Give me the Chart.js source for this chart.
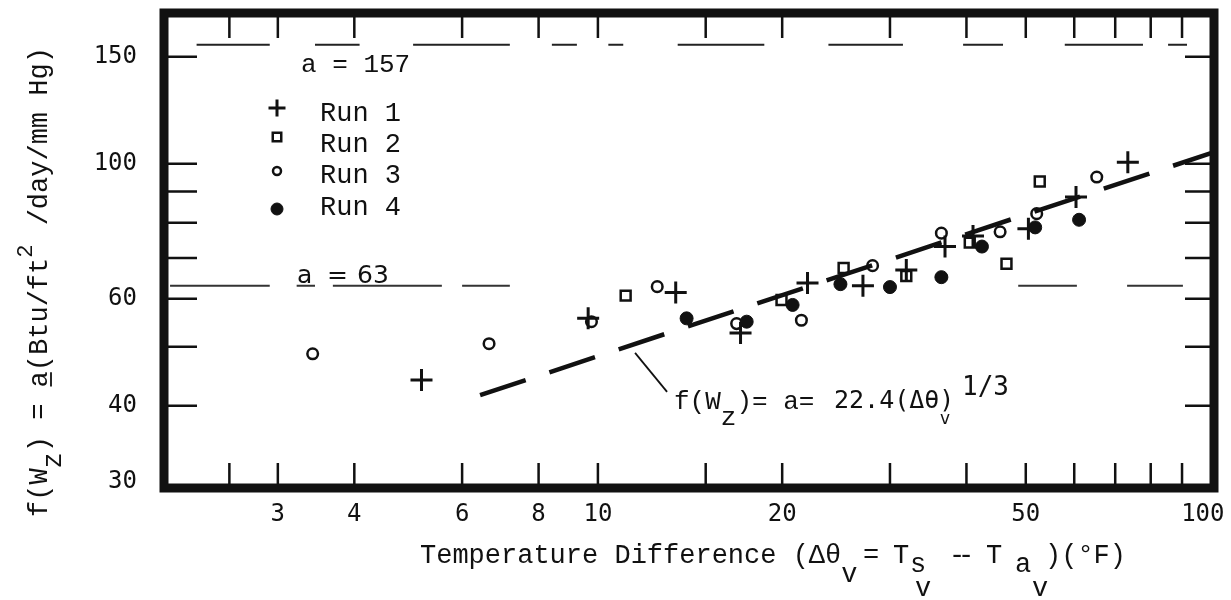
<!DOCTYPE html>
<html>
<head>
<meta charset="utf-8">
<title>f(Wz) against temperature difference</title>
<script src="https://cdn.jsdelivr.net/npm/chart.js@4.4.1/dist/chart.umd.min.js"></script>
<style>
  html, body { margin: 0; padding: 0; background: #fff; }
  #box { width: 1231px; height: 600px; }
  canvas { display: block; }
</style>
</head>
<body>
<div id="box"><canvas id="chart" width="1231" height="600"></canvas></div>
<script>
// Evaporation coefficient f(Wz) against temperature difference, four runs
const run1X = [5.15, 9.64, 13.4, 17.1, 22.0, 27.1, 31.9, 36.9, 41.0, 50.5, 60.4, 73.4];
const run1Y = [44.1, 55.7, 61.4, 52.7, 63.7, 63.0, 66.9, 73.1, 76.1, 78.2, 88.2, 100.6];
const run2X = [11.1, 19.95, 25.2, 31.9, 40.5, 46.5, 52.7];
const run2Y = [60.7, 59.7, 67.4, 65.4, 74.2, 68.5, 93.5];
const run3X = [3.42, 6.64, 9.76, 12.5, 16.85, 21.5, 28.1, 36.4, 45.4, 52.1, 65.3];
const run3Y = [48.7, 50.6, 55.0, 62.8, 54.6, 55.3, 68.0, 76.9, 77.3, 82.8, 95.1];
const run4X = [13.96, 17.5, 20.8, 24.9, 30.0, 36.4, 42.4, 51.8, 61.1];
const run4Y = [55.7, 55.0, 58.6, 63.4, 62.7, 65.1, 73.1, 78.6, 80.9];
const runNames = ['Run 1', 'Run 2', 'Run 3', 'Run 4'];

// fitted relation  f(Wz) = a = 22.4 (Δθv)^(1/3)
const fitCoef = 22.4;
const fitExp = 1 / 3;
const fitRange = [6.42, 101.5];

// constant levels a = 157 and a = 63, drawn as broken rules (x extents in °F)
const aHigh = 157;
const aHighSegments = [[2.21, 2.91], [3.45, 4.08], [4.99, 7.18], [8.41, 9.24], [10.4, 11.0],
                       [13.5, 18.7], [23.8, 31.5], [39.5, 45.9], [57.9, 77.7], [85.4, 91.7]];
const aLow = 63;
const aLowSegments = [[2.0, 2.91], [3.22, 3.45], [3.69, 5.56], [6.0, 7.18], [48.6, 60.6], [73.2, 90.3]];

// axes
const xRange = [1.955, 101.5];
const yRange = [29.3, 177];
const xTickMarks = [2.5, 3, 4, 6, 8, 10, 15, 20, 30, 40, 50, 60, 70, 80, 90];
const xTickLabels = [3, 4, 6, 8, 10, 20, 50, 100];
const yTickMarks = [40, 50, 60, 70, 80, 90, 100, 150];
const yTickLabels = [30, 40, 60, 100, 150];

const INK = '#111';
const MONO = '"Liberation Mono", "DejaVu Sans Mono", monospace';
const SANSMONO = '"DejaVu Sans Mono", monospace';

const pts = (xs, ys) => xs.map((x, i) => ({ x, y: ys[i] }));
const rule = (segs, level) => segs.flatMap(([a, b]) => [{ x: a, y: level }, { x: b, y: level }, { x: b, y: null }]);
const fitPts = fitRange.map(x => ({ x, y: fitCoef * Math.pow(x, fitExp) }));
const tickList = (a, b) => [...new Set([...a, ...b])].sort((p, q) => p - q).map(v => ({ value: v }));

function put(ctx, s, x, y, font) {
  ctx.font = font;
  ctx.fillText(s, x, y);
  return x + ctx.measureText(s).width;
}

const framePlugin = {
  id: 'frame',
  afterDatasetsDraw(chart) {
    const { ctx, chartArea: a, scales: { x, y } } = chart;
    ctx.save();
    ctx.strokeStyle = INK;
    ctx.lineWidth = 2.5;
    ctx.beginPath();
    xTickMarks.forEach(v => {
      const px = x.getPixelForValue(v);
      ctx.moveTo(px, a.bottom); ctx.lineTo(px, a.bottom - 25);
      ctx.moveTo(px, a.top); ctx.lineTo(px, a.top + 25);
    });
    yTickMarks.forEach(v => {
      const py = y.getPixelForValue(v);
      ctx.moveTo(a.left, py); ctx.lineTo(a.left + 33, py);
      ctx.moveTo(a.right, py); ctx.lineTo(a.right - 29, py);
    });
    ctx.stroke();
    ctx.lineWidth = 9;
    ctx.lineJoin = 'miter';
    ctx.strokeRect(a.left, a.top, a.right - a.left, a.bottom - a.top);
    ctx.restore();
  },
  afterDraw(chart) {
    const { ctx, scales: { x, y } } = chart;
    ctx.save();
    ctx.fillStyle = INK;
    ctx.strokeStyle = INK;
    ctx.textAlign = 'left';
    ctx.textBaseline = 'alphabetic';

    // legend block
    put(ctx, 'a = 157', 301, 72, '26px ' + MONO);
    const legendRows = [[108, 121], [137, 152], [171, 183], [209, 215]];
    const legendMarks = [
      { pointStyle: 'cross', radius: 8.5, borderWidth: 3, fill: 'rgba(0,0,0,0)' },
      { pointStyle: 'rect', radius: 6, borderWidth: 2.5, fill: 'rgba(0,0,0,0)' },
      { pointStyle: 'circle', radius: 4, borderWidth: 2.5, fill: 'rgba(0,0,0,0)' },
      { pointStyle: 'circle', radius: 6, borderWidth: 1, fill: INK }
    ];
    legendRows.forEach(([my, ty], i) => {
      const m = legendMarks[i];
      ctx.lineWidth = m.borderWidth;
      ctx.fillStyle = m.fill;
      Chart.helpers.drawPoint(ctx, { pointStyle: m.pointStyle, radius: m.radius, rotation: 0, borderWidth: m.borderWidth }, 277, my);
      ctx.fillStyle = INK;
      put(ctx, runNames[i], 320, ty, '27px ' + MONO);
    });

    // hand label on the a = 63 rule
    const lowY = y.getPixelForValue(aLow);
    const hand = '25px "DejaVu Sans", sans-serif';
    put(ctx, 'a', 297, lowY - 3, hand);
    put(ctx, '=', 327, lowY - 3, hand);
    put(ctx, '63', 357, lowY - 3, hand);

    // fitted-line annotation with leader
    const lx = x.getPixelForValue(11.5);
    const ly = y.getPixelForValue(fitCoef * Math.pow(11.5, fitExp)) + 9;
    ctx.lineWidth = 1.8;
    ctx.beginPath();
    ctx.moveTo(lx, ly);
    ctx.lineTo(lx + 32, ly + 39);
    ctx.stroke();
    const annF = '26px ' + MONO;
    let ax = put(ctx, 'f(W', 674, 409, annF);
    ax = put(ctx, 'z', ax, 425, annF);
    put(ctx, ')= a=', ax, 409, annF);
    put(ctx, '22.4(Δθ)', 834, 408, '25px ' + SANSMONO);
    put(ctx, '1/3', 962, 395, '26px ' + SANSMONO);
    put(ctx, 'v', 940, 424, '17px "DejaVu Sans", sans-serif');

    // x-axis title
    const F = '27px ' + MONO;
    const tx = put(ctx, 'Temperature Difference (Δθ', 420, 563, F);
    put(ctx, 'v', tx, 582, F);
    put(ctx, '=', 863, 563, F);
    put(ctx, 'T', 893, 563, F);
    put(ctx, 's', 910, 572, F);
    put(ctx, 'v', 915, 596, F);
    put(ctx, '-', 949, 563, F);
    put(ctx, '-', 958, 563, F);
    put(ctx, 'T', 986, 563, F);
    put(ctx, 'a', 1015, 572, F);
    put(ctx, 'v', 1032, 596, F);
    put(ctx, ')(°F)', 1045, 563, F);

    // y-axis title, reading upward
    ctx.translate(47, 517);
    ctx.rotate(-Math.PI / 2);
    let ty = put(ctx, 'f(W', 0, 0, F);
    ty = put(ctx, 'z', ty, 14, F);
    ty = put(ctx, ') = ', ty, 0, F);
    const aStart = ty;
    ty = put(ctx, 'a', ty, 0, F);
    ctx.lineWidth = 1.8;
    ctx.beginPath();
    ctx.moveTo(aStart + 1, 4); ctx.lineTo(ty - 1, 4);
    ctx.stroke();
    ty = put(ctx, '(Btu/ft', ty, 0, F);
    ty = put(ctx, '2', ty, -15, '22px ' + MONO);
    put(ctx, ' /day/mm Hg)', ty + 3, 0, F);
    ctx.restore();
  }
};

function build() {
  new Chart(document.getElementById('chart'), {
    type: 'scatter',
    data: {
      datasets: [
        { label: runNames[0], data: pts(run1X, run1Y), pointStyle: 'cross', pointRadius: 11,
          borderColor: INK, borderWidth: 3, backgroundColor: 'rgba(0,0,0,0)', order: 1 },
        { label: runNames[1], data: pts(run2X, run2Y), pointStyle: 'rect', pointRadius: 7,
          borderColor: INK, borderWidth: 2.5, backgroundColor: 'rgba(0,0,0,0)', order: 2 },
        { label: runNames[2], data: pts(run3X, run3Y), pointStyle: 'circle', pointRadius: 5.3,
          borderColor: INK, borderWidth: 2.5, backgroundColor: 'rgba(0,0,0,0)', order: 3 },
        { label: runNames[3], data: pts(run4X, run4Y), pointStyle: 'circle', pointRadius: 6.5,
          borderColor: INK, borderWidth: 1, backgroundColor: INK, order: 0 },
        { label: 'fit', type: 'line', data: fitPts, borderColor: INK, borderWidth: 4.5,
          borderDash: [48, 25], borderCapStyle: 'butt', pointRadius: 0, tension: 0, order: 10 },
        { label: 'a157', type: 'line', data: rule(aHighSegments, aHigh), borderColor: '#222',
          borderWidth: 2, pointRadius: 0, spanGaps: false, order: 11 },
        { label: 'a63', type: 'line', data: rule(aLowSegments, aLow), borderColor: '#333',
          borderWidth: 2, pointRadius: 0, spanGaps: false, order: 12 }
      ]
    },
    options: {
      responsive: false,
      animation: false,
      devicePixelRatio: 1,
      layout: { autoPadding: false, padding: { left: 0, right: 17, top: 13, bottom: 0 } },
      plugins: { legend: { display: false }, tooltip: { enabled: false } },
      scales: {
        x: {
          type: 'logarithmic', position: 'bottom', min: xRange[0], max: xRange[1],
          afterBuildTicks: s => { s.ticks = tickList(xTickMarks, xTickLabels); },
          afterFit: s => { s.height = 112; s.paddingLeft = 0; s.paddingRight = 0; },
          grid: { display: false, drawTicks: false },
          border: { display: false },
          ticks: {
            autoSkip: false, maxRotation: 0, minRotation: 0, padding: 12, color: INK,
            font: { family: SANSMONO, size: 24 },
            // the last label sits against the frame corner, so it is nudged inward with a space
            callback: v => (xTickLabels.includes(v) ? (v === xRange[1] || v === 100 ? String(v) + ' ' : String(v)) : '')
          }
        },
        y: {
          type: 'logarithmic', position: 'left', min: yRange[0], max: yRange[1],
          afterBuildTicks: s => { s.ticks = tickList(yTickMarks, yTickLabels); },
          afterFit: s => { s.width = 164; s.paddingTop = 0; s.paddingBottom = 0; },
          grid: { display: false, drawTicks: false },
          border: { display: false },
          ticks: {
            autoSkip: false, padding: 27, color: INK,
            font: { family: SANSMONO, size: 24 },
            callback: v => (yTickLabels.includes(v) ? String(v) : '')
          }
        }
      }
    },
    plugins: [framePlugin]
  });
}

const fontLoads = [
  '24px "DejaVu Sans Mono"', '27px "Liberation Mono"', '25px "DejaVu Sans"'
].map(f => (document.fonts && document.fonts.load ? document.fonts.load(f) : Promise.resolve()));
Promise.all(fontLoads).then(build, build);
</script>
</body>
</html>
